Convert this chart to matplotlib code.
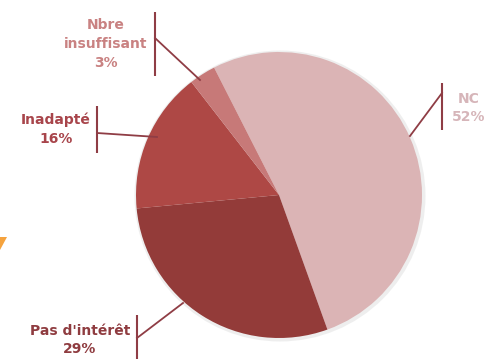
import matplotlib
matplotlib.use("Agg")
import matplotlib.pyplot as plt
from matplotlib.patches import Circle, Polygon

labels = ["NC", "Pas d'intérêt", "Inadapté", "Nbre\ninsuffisant"]
values = [52, 29, 16, 3]
colors = ["#dbb4b5", "#933b39", "#ae4845", "#c77978"]
text_colors = ["#d6b5b9", "#8f3c40", "#a8454b", "#c98282"]

W, H = 487, 359
fig = plt.figure(figsize=(W / 100, H / 100), dpi=100)
ax = fig.add_axes([0, 0, 1, 1])

cx, cy, r = 279, H - 195, 143

# faint shadow
ax.add_patch(Circle((cx + 1, cy - 1), r + 2.5, color="#d0d0d0", alpha=0.35, lw=0, zorder=0))

ax.pie(values, colors=colors, startangle=117, counterclock=False,
       center=(cx, cy), radius=r, frame=True,
       wedgeprops=dict(linewidth=0))
ax.set_xlim(0, W)
ax.set_ylim(0, H)
ax.set_aspect("equal")
ax.axis("off")

line_c = "#8f3d45"

def Y(y):
    return H - y

specs = [
    # NC
    dict(tx=469, ty=108, bar_x=442, bar_y=(83, 130), lead=((442, 93), (410, 136))),
    # Pas d'intérêt
    dict(tx=80, ty=340, bar_x=137, bar_y=(315, 359), lead=((137, 338), (183, 303))),
    # Inadapté
    dict(tx=56, ty=129, bar_x=97, bar_y=(106, 153), lead=((97, 133), (157, 137))),
    # Nbre insuffisant
    dict(tx=106, ty=44, bar_x=155, bar_y=(12, 76), lead=((155, 38), (200, 80))),
]

for lab, v, tc, s in zip(labels, values, text_colors, specs):
    ax.text(s["tx"], Y(s["ty"]), f"{lab}\n{v}%", color=tc, fontsize=10,
            fontweight="bold", ha="center", va="center", linespacing=1.45,
            family="DejaVu Sans")
    ax.plot([s["bar_x"], s["bar_x"]], [Y(s["bar_y"][0]), Y(s["bar_y"][1])],
            color=line_c, lw=1.5, solid_capstyle="butt")
    (x0, y0), (x1, y1) = s["lead"]
    ax.plot([x0, x1], [Y(y0), Y(y1)], color=line_c, lw=1.3)

# orange arrow fragment at left edge
ax.add_patch(Polygon([(0, Y(237)), (7, Y(237)), (0, Y(250))], closed=True,
                     color="#f5a33e", lw=0))

fig.savefig("out.png", dpi=100)
